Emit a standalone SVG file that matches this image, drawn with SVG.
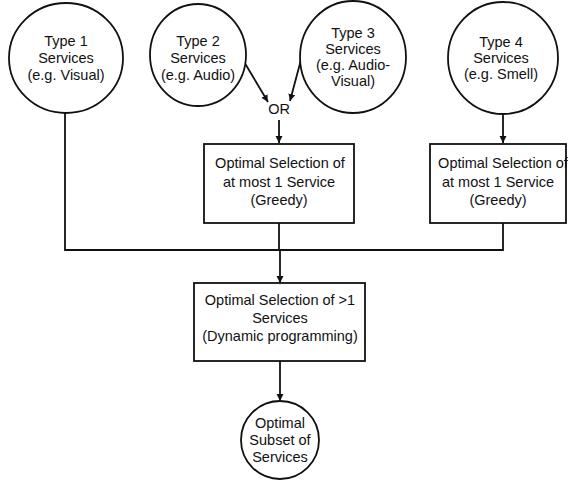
<svg xmlns="http://www.w3.org/2000/svg" width="568" height="480" viewBox="0 0 568 480">
  <style>
    .shape { fill: #fff; stroke: #111; stroke-width: 1.8; }
    .wire { fill: none; stroke: #111; stroke-width: 1.8; }
    text { font-family: "Liberation Sans", Arial, sans-serif; font-size: 14.5px; fill: #111; text-anchor: middle; }
  </style>
  <defs>
    <marker id="arrow" viewBox="0 0 10 10" refX="10" refY="5" markerWidth="7" markerHeight="10" markerUnits="userSpaceOnUse" orient="auto">
      <path d="M0,0 L10,5 L0,10 z" fill="#111"/>
    </marker>
  </defs>

  <rect width="568" height="480" fill="#fff"/>

  <!-- connectors -->
  <g id="connectors">
    <!-- type 2 / type 3 into the OR branch -->
    <line class="wire" x1="243" y1="60" x2="268" y2="102" marker-end="url(#arrow)"/>
    <line class="wire" x1="302" y1="56" x2="290" y2="101" marker-end="url(#arrow)"/>
    <line class="wire" x1="279" y1="120" x2="279" y2="143" marker-end="url(#arrow)"/>
    <!-- type 4 into its greedy selection -->
    <line class="wire" x1="503" y1="114" x2="503" y2="143" marker-end="url(#arrow)"/>
    <!-- collector bus -->
    <polyline class="wire" points="65,112 65,250 503,250 503,223"/>
    <line class="wire" x1="279" y1="223" x2="279" y2="250"/>
    <line class="wire" x1="280" y1="250" x2="280" y2="283" marker-end="url(#arrow)"/>
    <!-- dynamic programming to result -->
    <line class="wire" x1="280" y1="361" x2="280" y2="401" marker-end="url(#arrow)"/>
    <text x="279" y="114">OR</text>
  </g>

  <g id="type1">
    <ellipse class="shape" cx="66" cy="58" rx="57" ry="55"/>
    <text x="66" y="46">Type 1</text>
    <text x="66" y="63">Services</text>
    <text x="66" y="80">(e.g. Visual)</text>
  </g>

  <g id="type2">
    <ellipse class="shape" cx="198" cy="55" rx="48" ry="51"/>
    <text x="198" y="46">Type 2</text>
    <text x="198" y="63">Services</text>
    <text x="198" y="80">(e.g. Audio)</text>
  </g>

  <g id="type3">
    <ellipse class="shape" cx="353" cy="57" rx="53" ry="56"/>
    <text x="353" y="38">Type 3</text>
    <text x="353" y="54">Services</text>
    <text x="353" y="70">(e.g. Audio-</text>
    <text x="353" y="86">Visual)</text>
  </g>

  <g id="type4">
    <ellipse class="shape" cx="503" cy="58" rx="55" ry="56"/>
    <text x="501" y="47">Type 4</text>
    <text x="501" y="63">Services</text>
    <text x="501" y="79">(e.g. Smell)</text>
  </g>

  <g id="greedy1">
    <rect class="shape" x="204" y="144" width="150" height="79"/>
    <text x="280" y="168">Optimal Selection of</text>
    <text x="279" y="187">at most 1 Service</text>
    <text x="279" y="205">(Greedy)</text>
  </g>

  <g id="greedy2">
    <rect class="shape" x="430" y="144" width="136" height="79"/>
    <text x="503" y="168">Optimal Selection of</text>
    <text x="498" y="187">at most 1 Service</text>
    <text x="498" y="205">(Greedy)</text>
  </g>

  <g id="dynamic">
    <rect class="shape" x="194" y="283" width="171" height="78"/>
    <text x="280" y="305">Optimal Selection of &gt;1</text>
    <text x="280" y="323">Services</text>
    <text x="280" y="341">(Dynamic programming)</text>
  </g>

  <g id="result">
    <circle class="shape" cx="280" cy="440" r="39"/>
    <text x="280" y="428">Optimal</text>
    <text x="280" y="445">Subset of</text>
    <text x="280" y="462">Services</text>
  </g>
</svg>
